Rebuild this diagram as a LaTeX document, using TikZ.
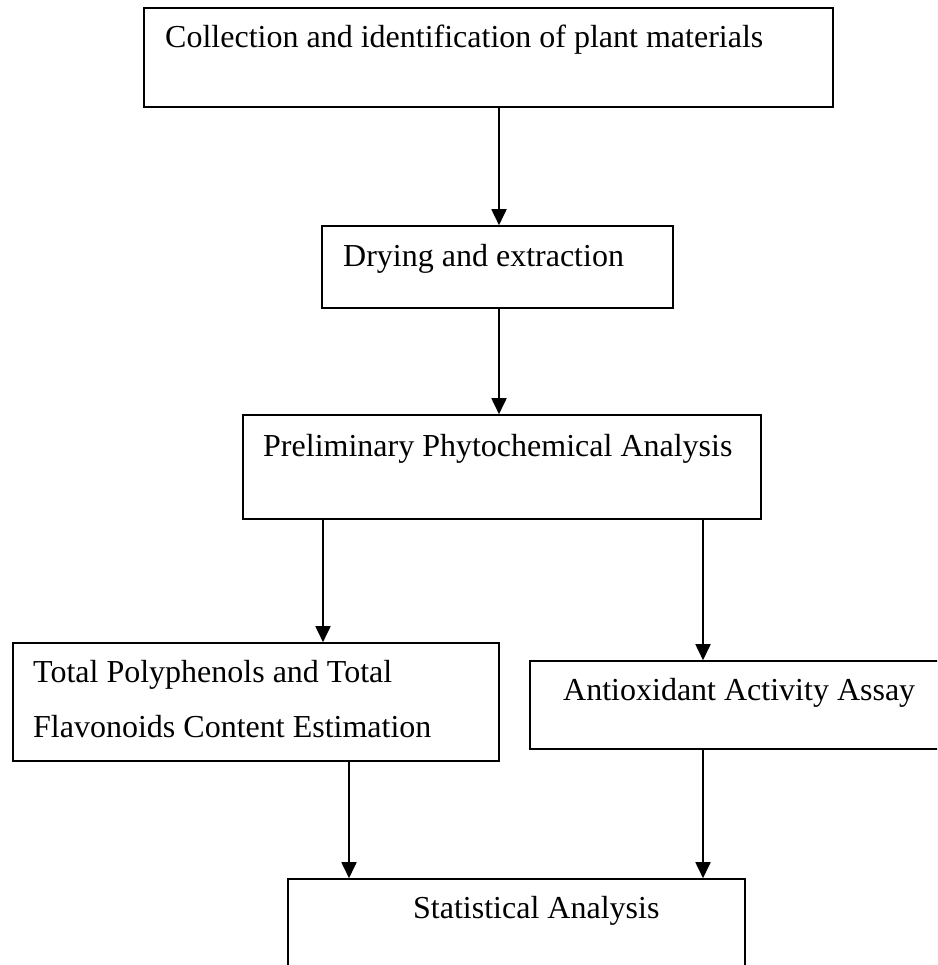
\documentclass[tikz,border=0pt]{standalone}
\usepackage{fontspec}
\setmainfont{Liberation Serif}
\usetikzlibrary{arrows.meta}
\begin{document}
\begin{tikzpicture}[x=1pt,y=-1pt,
  box/.style={draw, line width=1.6pt, rectangle, inner sep=0pt},
  lbl/.style={anchor=base west, inner sep=0pt, font=\fontsize{32}{38}\selectfont},
  arr/.style={-{Triangle[length=16pt,width=15pt]}, line width=1.8pt}]
\useasboundingbox (0,0) rectangle (937,965);
\clip (0,0) rectangle (937,965);
% boxes
\node[box, minimum width=689pt, minimum height=99pt] (b1) at (488.5,57.5) {};
\node[box, minimum width=351pt, minimum height=82pt] (b2) at (497.5,267) {};
\node[box, minimum width=518pt, minimum height=104pt] (b3) at (502,467) {};
\node[box, minimum width=486pt, minimum height=118pt] (b4) at (256,702) {};
\node[box, minimum width=430pt, minimum height=88pt] (b5) at (745,705) {};
\node[box, minimum width=457pt, minimum height=121pt] (b6) at (516.5,939.5) {};
% texts
\node[lbl] (t1) at (165,48) {Collection and identification of plant materials};
\node[lbl] (t2) at (343,266) {Drying and extraction};
\node[lbl] (t3) at (263,456) {Preliminary Phytochemical Analysis};
\node[lbl] (t4a) at (33,682) {Total Polyphenols and Total};
\node[lbl] (t4b) at (33,737) {Flavonoids Content Estimation};
\node[lbl] (t5) at (563,700) {Antioxidant Activity Assay};
\node[lbl] (t6) at (413,918) {Statistical Analysis};
% arrows
\draw[arr] (499,0 |- b1.south) -- (499,0 |- b2.north);
\draw[arr] (499,0 |- b2.south) -- (499,0 |- b3.north);
\draw[arr] (323,0 |- b3.south) -- (323,0 |- b4.north);
\draw[arr] (703,0 |- b3.south) -- (703,0 |- b5.north);
\draw[arr] (349,0 |- b4.south) -- (349,0 |- b6.north);
\draw[arr] (703,0 |- b5.south) -- (703,0 |- b6.north);
\end{tikzpicture}
\end{document}
